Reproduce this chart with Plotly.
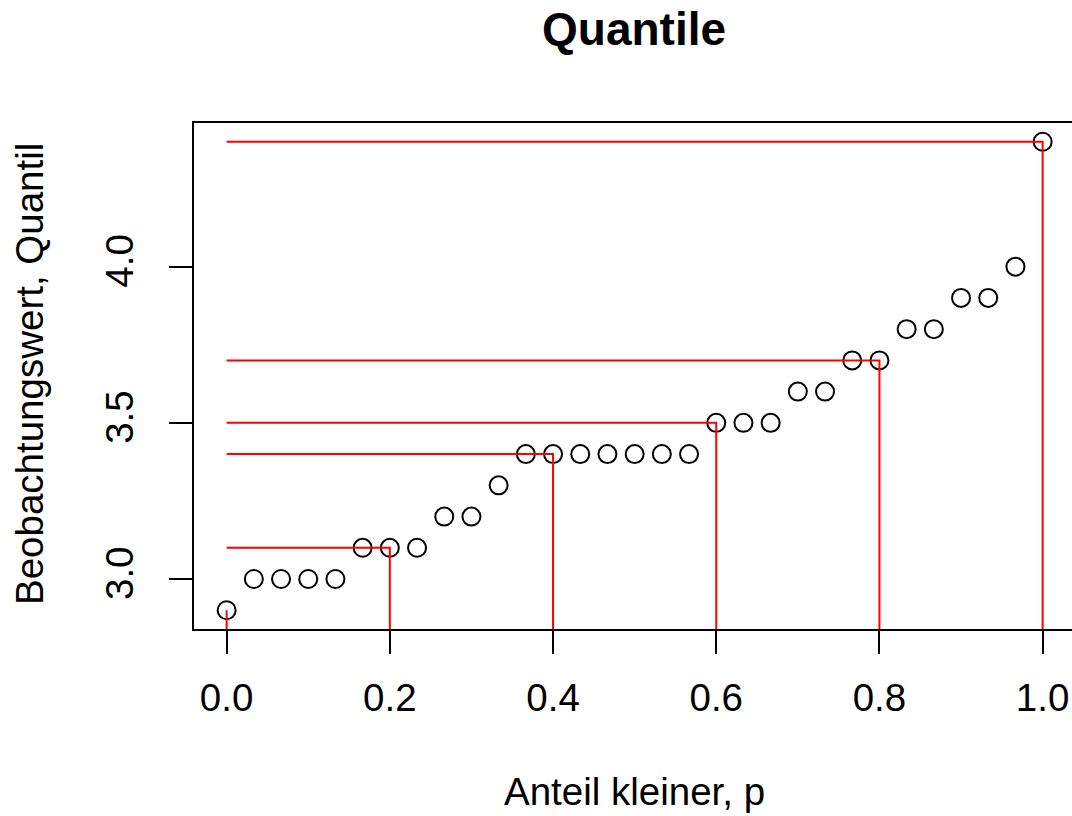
import plotly.graph_objects as go

p = [i / 30 for i in range(31)]
werte = [2.9, 3.0, 3.0, 3.0, 3.0, 3.1, 3.1, 3.1, 3.2, 3.2, 3.3,
         3.4, 3.4, 3.4, 3.4, 3.4, 3.4, 3.4, 3.5, 3.5, 3.5,
         3.6, 3.6, 3.7, 3.7, 3.8, 3.8, 3.9, 3.9, 4.0, 4.4]
q_p = [0.0, 0.2, 0.4, 0.6, 0.8, 1.0]
q_v = [2.9, 3.1, 3.4, 3.5, 3.7, 4.4]
x_ticks = [0.0, 0.2, 0.4, 0.6, 0.8, 1.0]
x_ticktext = ["0.0", "0.2", "0.4", "0.6", "0.8", "1.0"]
y_ticks = [3.0, 3.5, 4.0]
y_ticktext = ["3.0", "3.5", "4.0"]

W, H = 1072, 816
ml, mt = 194, 123
mb = H - 629
x_range = [-0.04, -0.04 + (W - ml) / 816]
y_range = [2.84, 4.46]
FONT = "Liberation Sans, Arial, Helvetica, sans-serif"
FS = 38.5

fig = go.Figure()
fig.add_trace(go.Scatter(
    x=p, y=werte, mode="markers",
    marker=dict(symbol="circle-open", size=18, color="black",
                line=dict(width=2, color="black")),
    showlegend=False, hoverinfo="x+y"))

lx, ly = [], []
for xp, yv in zip(q_p, q_v):
    lx += [0, xp, xp, None]
    ly += [yv, yv, y_range[0] - 0.1, None]
fig.add_trace(go.Scatter(
    x=lx, y=ly, mode="lines", line=dict(color="red", width=2),
    showlegend=False, hoverinfo="skip"))

pw = W - ml
ph = H - mt - mb


def px_to_paper(xp, yp):
    # pixel coordinates (from top-left of figure) -> paper coords
    return (xp - ml) / pw, (H - yp - mb) / ph


tx, ty = px_to_paper(634, 29)
ax_, ay_ = px_to_paper(634, 791)
yx, yy = px_to_paper(29, 374)

fig.update_layout(
    width=W, height=H,
    margin=dict(l=ml, r=0, t=mt, b=mb, pad=0),
    plot_bgcolor="white", paper_bgcolor="white",
    font=dict(family=FONT, size=FS, color="black"),
    xaxis=dict(range=x_range, showgrid=False, zeroline=False,
               showline=True, linecolor="black", linewidth=2, mirror=True,
               ticks="outside", ticklen=23, tickwidth=2, tickcolor="black",
               tickvals=x_ticks, ticktext=x_ticktext, ticklabelstandoff=11,
               tickfont=dict(size=FS, family=FONT)),
    yaxis=dict(range=y_range, showgrid=False, zeroline=False,
               showline=True, linecolor="black", linewidth=2, mirror=False,
               ticks="outside", ticklen=23, tickwidth=2, tickcolor="black",
               tickvals=y_ticks, ticktext=y_ticktext, tickangle=-90,
               ticklabelstandoff=21,
               tickfont=dict(size=FS, family=FONT)),
    annotations=[
        dict(text="<b>Quantile</b>", x=tx, y=ty, xref="paper", yref="paper",
             xanchor="center", yanchor="middle",
             showarrow=False, font=dict(size=46, family=FONT)),
        dict(text="Anteil kleiner, p", x=ax_, y=ay_, xref="paper", yref="paper",
             xanchor="center", yanchor="middle",
             showarrow=False, font=dict(size=FS, family=FONT)),
        dict(text="Beobachtungswert, Quantil", x=yx, y=yy, xref="paper", yref="paper",
             xanchor="center", yanchor="middle",
             showarrow=False, textangle=-90, font=dict(size=FS, family=FONT)),
    ],
)

fig.write_html(
    "out.html",
    config={"displayModeBar": False},
    post_script="document.body.style.margin='0';document.body.style.overflow='hidden';",
)
